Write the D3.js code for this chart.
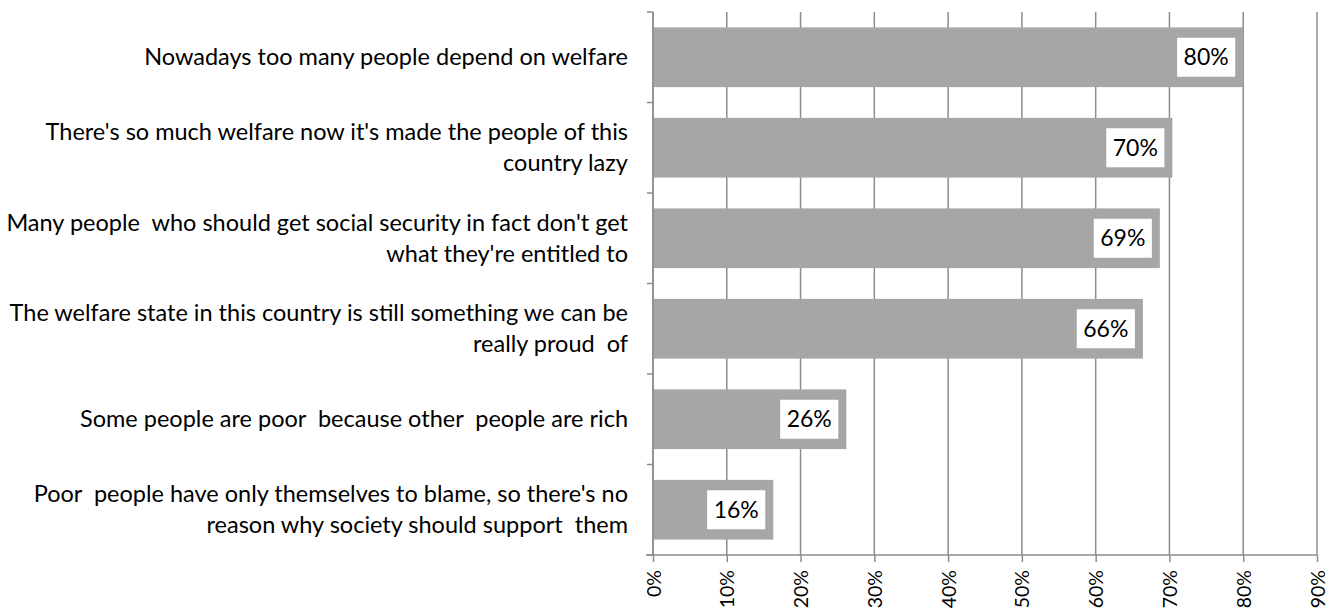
<!DOCTYPE html>
<html>
<head>
<meta charset="utf-8">
<script src="https://cdn.jsdelivr.net/npm/d3@7"></script>
<style>
  html, body { margin: 0; padding: 0; background: #ffffff; }
  svg { display: block; }
  text { font-family: Lato, "Open Sans", sans-serif; fill: #000; }
</style>
</head>
<body>
<svg id="chart" width="1342" height="609"></svg>
<script>
// ---- data ----
const categories = [
  ["Nowadays too many people depend on welfare"],
  ["There's so much welfare now it's made the people of this", "country lazy"],
  ["Many people  who should get social security in fact don't get", "what they're entitled to"],
  ["The welfare state in this country is still something we can be", "really proud  of"],
  ["Some people are poor  because other  people are rich"],
  ["Poor  people have only themselves to blame, so there's no", "reason why society should support  them"]
];
const values = [80.0, 70.4, 68.7, 66.4, 26.2, 16.3];
const valueLabels = ["80%", "70%", "69%", "66%", "26%", "16%"];
const tickValues = [0, 10, 20, 30, 40, 50, 60, 70, 80, 90];
const tickLabels = ["0%", "10%", "20%", "30%", "40%", "50%", "60%", "70%", "80%", "90%"];

// ---- layout ----
const svg = d3.select("#chart");
const pLeft = 653, pTop = 12, pRight = 1317, pBottom = 555;
const gridColor = "#8c8c8c";
const barColor = "#a6a6a6";

const x = d3.scaleLinear().domain([0, 90]).range([pLeft, pRight]);
const y = d3.scaleBand().domain(d3.range(categories.length)).range([pTop, pBottom]).paddingInner(0.34).paddingOuter(0.17);

// gridlines
svg.append("g").selectAll("line").data(tickValues).join("line")
  .attr("x1", d => x(d)).attr("x2", d => x(d))
  .attr("y1", pTop).attr("y2", pBottom)
  .attr("stroke", gridColor).attr("stroke-width", 1.5);

// bars
svg.append("g").selectAll("rect").data(values).join("rect")
  .attr("x", x(0))
  .attr("y", (d, i) => y(i))
  .attr("width", d => x(d) - x(0))
  .attr("height", y.bandwidth())
  .attr("fill", barColor);

// bottom axis
const xAxis = d3.axisBottom(x).tickValues(tickValues).tickSize(7).tickFormat((d, i) => tickLabels[i]);
const gx = svg.append("g").attr("transform", `translate(0,${pBottom})`).call(xAxis);
gx.select(".domain").attr("stroke", gridColor).attr("stroke-width", 1.5).attr("d", `M${pLeft - 7},0H${pRight}`);
gx.selectAll(".tick line").attr("stroke", gridColor).attr("stroke-width", 1.5);
gx.selectAll(".tick text")
  .attr("transform", "rotate(-90)")
  .attr("x", -15).attr("y", 0).attr("dy", "0.36em")
  .attr("text-anchor", "end")
  .style("font-family", "Lato, 'Open Sans', sans-serif")
  .style("font-size", "19.5px");

// left axis (category boundaries)
const bounds = d3.range(categories.length + 1).map(i => pTop + i * (pBottom - pTop) / categories.length);
svg.append("line").attr("x1", pLeft).attr("x2", pLeft).attr("y1", pTop).attr("y2", pBottom)
  .attr("stroke", gridColor).attr("stroke-width", 1.5);
svg.append("g").selectAll("line").data(bounds).join("line")
  .attr("x1", pLeft - 6).attr("x2", pLeft)
  .attr("y1", d => d).attr("y2", d => d)
  .attr("stroke", gridColor).attr("stroke-width", 1.5);

// category labels
const lineH = 31;
const catG = svg.append("g");
categories.forEach((lines, i) => {
  const cy = y(i) + y.bandwidth() / 2;
  const t = catG.append("text")
    .attr("text-anchor", "end")
    .style("font-size", "23.5px")
    .style("white-space", "pre");
  lines.forEach((ln, j) => {
    t.append("tspan")
      .attr("x", pLeft - 25)
      .attr("y", cy + (j - (lines.length - 1) / 2) * lineH)
      .attr("dy", "0.35em")
      .text(ln);
  });
});

// value labels with white boxes
const lab = svg.append("g").selectAll("g").data(values).join("g");
lab.each(function(d, i) {
  const g = d3.select(this);
  const cy = y(i) + y.bandwidth() / 2;
  const t = g.append("text")
    .attr("text-anchor", "middle")
    .attr("dy", "0.35em")
    .style("font-size", "23px")
    .text(valueLabels[i]);
  const w = t.node().getComputedTextLength() + 13;
  const rx = x(d) - 8 - w;
  g.insert("rect", "text")
    .attr("x", rx).attr("y", cy - 19.5)
    .attr("width", w).attr("height", 39)
    .attr("fill", "#ffffff");
  t.attr("x", rx + w / 2).attr("y", cy);
});
</script>
</body>
</html>
